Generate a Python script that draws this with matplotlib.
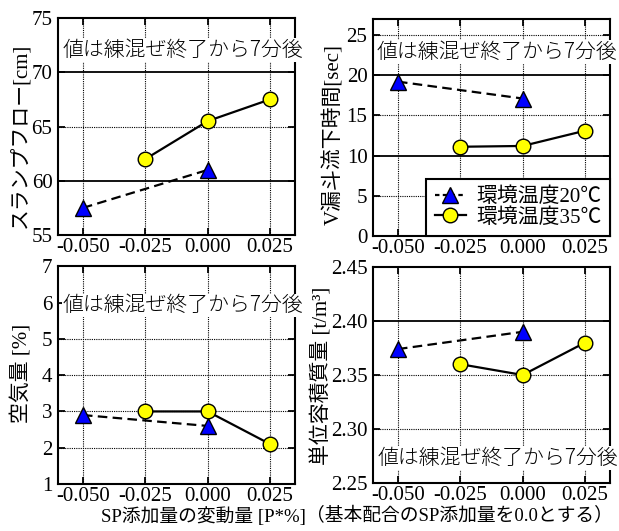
import matplotlib
matplotlib.use("Agg")
import matplotlib.pyplot as plt
from matplotlib.lines import Line2D

plt.rcParams['font.family'] = ['Liberation Serif', 'Noto Sans CJK JP', 'DejaVu Sans']
plt.rcParams['font.size'] = 15

# ---- data ----
x_ticks = [-0.050, -0.025, 0.000, 0.025]
x_tick_labels = ['-0.050', '-0.025', '0.000', '0.025']

x20 = [-0.050, 0.000]
x35 = [-0.025, 0.000, 0.025]

flow20 = [57.5, 61.0]
flow35 = [62.0, 65.5, 67.5]

vfun20 = [19.2, 17.1]
vfun35 = [11.1, 11.2, 13.1]

air20 = [2.9, 2.6]
air35 = [3.0, 3.0, 2.1]

dens20 = [2.374, 2.390]
dens35 = [2.36, 2.35, 2.38]

label20 = '環境温度20℃'
label35 = '環境温度35℃'
note = '値は練混ぜ終了から7分後'
xlabel_main = 'SP添加量の変動量 [P*%]'
xlabel_sub = '（基本配合のSP添加量を0.0とする）'

panels = [
    dict(pos=[0.0937, 0.5574, 0.3829, 0.4087], y20=flow20, y35=flow35,
         ylim=(55, 75), yticks=[55, 60, 65, 70, 75], yfmt='{:.0f}',
         solid=[60, 70], dotted=[65],
         ylabel='スランプフロー[cm]', lab=(-0.16, 0.46), note=(0.527, 0.853)),
    dict(pos=[0.6026, 0.5556, 0.3829, 0.4087], y20=vfun20, y35=vfun35,
         ylim=(0, 27), yticks=[0, 5, 10, 15, 20, 25], yfmt='{:.0f}',
         solid=[10, 20], dotted=[5, 15, 25],
         ylabel='V漏斗流下時間[sec]', lab=(-0.165, 0.466), note=(0.523, 0.848)),
    dict(pos=[0.0937, 0.0885, 0.3829, 0.4100], y20=air20, y35=air35,
         ylim=(1, 7), yticks=[1, 2, 3, 4, 5, 6, 7], yfmt='{:.0f}',
         solid=[], dotted=[2, 3, 4, 5, 6],
         ylabel='空気量 [%]', lab=(-0.152, 0.51), note=(0.527, 0.821)),
    dict(pos=[0.6026, 0.0904, 0.3829, 0.4068], y20=dens20, y35=dens35,
         ylim=(2.25, 2.45), yticks=[2.25, 2.30, 2.35, 2.40, 2.45], yfmt='{:.2f}',
         solid=[2.40], dotted=[2.30, 2.35],
         ylabel='単位容積質量 [t/m³]', lab=(-0.215, 0.495), note=(0.527, 0.116)),
]

blue = '#0000ff'
yellow = '#ffff00'

fig = plt.figure(figsize=(6.19, 5.31), dpi=100)

for i, p in enumerate(panels):
    ax = fig.add_axes(p['pos'])
    ax.set_xlim(-0.060, 0.035)
    ax.set_ylim(*p['ylim'])
    ax.set_xticks(x_ticks)
    ax.set_xticklabels(x_tick_labels)
    ax.set_yticks(p['yticks'])
    ax.set_yticklabels([p['yfmt'].format(v) for v in p['yticks']])
    for xv in x_ticks:
        ax.axvline(xv, color='black', lw=0.8, ls=(0, (1, 1)), zorder=1)
    for yv in p['dotted']:
        ax.axhline(yv, color='black', lw=0.8, ls=(0, (1, 1)), zorder=1)
    for yv in p['solid']:
        ax.axhline(yv, color='black', lw=1.3, zorder=1)
    for s in ax.spines.values():
        s.set_linewidth(1.5)
    ax.tick_params(direction='in', length=5, width=1.3, top=True, right=True,
                   labelsize=15)
    ax.tick_params(axis='x', pad=2)
    ax.tick_params(axis='y', pad=4)

    ax.plot(x20, p['y20'], color='black', lw=1.6, dashes=(4.3, 2.4),
            marker='^', markersize=11, markerfacecolor=blue,
            markeredgecolor='black', markeredgewidth=1.0, zorder=4)
    ax.plot(x35, p['y35'], color='black', lw=1.6, ls='-',
            marker='o', markersize=10.5, markerfacecolor=yellow,
            markeredgecolor='black', markeredgewidth=1.0, zorder=4)

    ax.set_ylabel(p['ylabel'], fontsize=15, va='center')
    ax.yaxis.set_label_coords(*p['lab'])

    ax.text(p['note'][0], p['note'][1], note, transform=ax.transAxes,
            ha='center', va='center', fontsize=15, fontweight='light',
            family=['Noto Sans CJK JP', 'DejaVu Sans'], clip_on=False,
            bbox=dict(facecolor='white', edgecolor='none', pad=0.5), zorder=3)

    if i == 1:
        handles = [
            Line2D([], [], color='black', lw=1.6, dashes=(2.0, 1.5), marker='^',
                   markersize=11, markerfacecolor=blue, markeredgecolor='black'),
            Line2D([], [], color='black', lw=1.6, ls='-', marker='o',
                   markersize=10.5, markerfacecolor=yellow, markeredgecolor='black'),
        ]
        leg = ax.legend(handles, [label20, label35], loc='lower right',
                        borderaxespad=0.0, fontsize=15, handlelength=1.5,
                        handletextpad=0.5, labelspacing=0.05, borderpad=0.4,
                        fancybox=False, framealpha=1.0, edgecolor='black')
        leg.get_frame().set_linewidth(1.5)
        leg.set_zorder(5)

fig.text(0.163, 0.028, xlabel_main, ha='left', va='center', fontsize=13.5)
fig.text(0.494, 0.028, xlabel_sub, ha='left', va='center', fontsize=13.5)

fig.savefig('out.png', dpi=100)
